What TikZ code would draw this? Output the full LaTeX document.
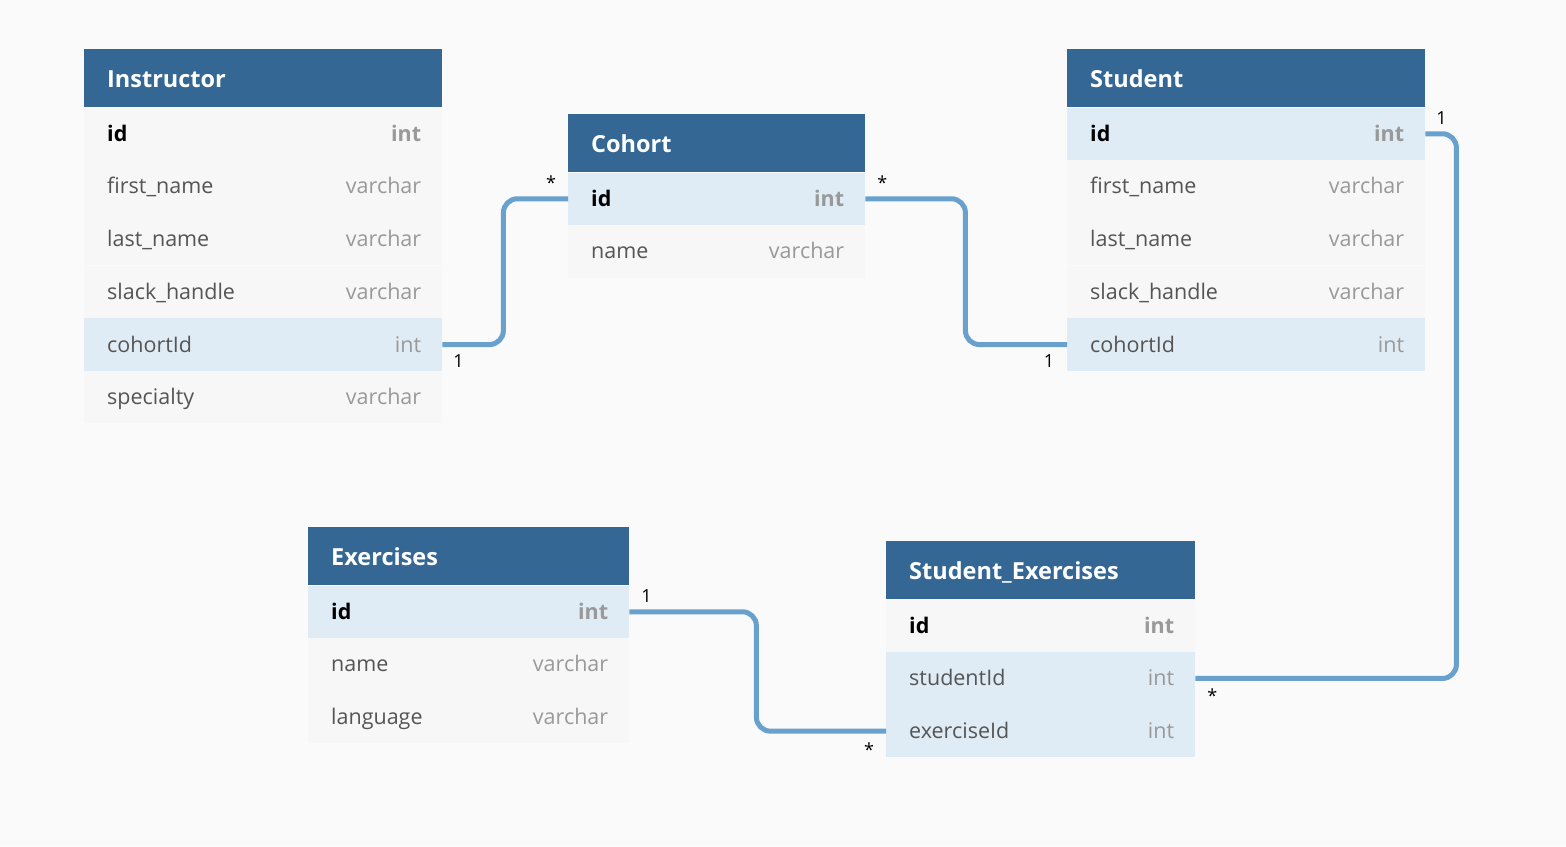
\documentclass[tikz,border=0pt]{standalone}
\usepackage{fontspec}
\setmainfont{Open Sans}
\usetikzlibrary{positioning}

\definecolor{headblue}{HTML}{346794}
\definecolor{rowgray}{HTML}{F7F7F7}
\definecolor{rowblue}{HTML}{E0ECF5}
\definecolor{linkblue}{HTML}{68A1CD}
\definecolor{pagebg}{HTML}{FAFAFA}
\definecolor{fieldgray}{HTML}{555555}
\definecolor{typegray}{HTML}{999999}

\tikzset{
  tablehead/.style={fill=headblue, anchor=north west, minimum height=58pt, inner sep=0pt},
  headtxt/.style={inner sep=0pt, text=white, text height=18pt, text depth=0pt,
    font=\fontsize{23.5}{23.5}\selectfont\bfseries},
  rowbox/.style={anchor=north west, minimum height=52.3pt, inner sep=0pt},
  normf/.style={inner sep=0pt, text=fieldgray, text height=15pt, text depth=0pt,
    font=\fontsize{21.5}{21.5}\selectfont},
  normt/.style={normf, text=typegray},
  keyf/.style={normf, text=black, font=\fontsize{21.5}{21.5}\selectfont\bfseries},
  keyt/.style={keyf, text=typegray},
  link/.style={draw=linkblue, line width=5pt, rounded corners=14pt},
  mult/.style={inner sep=0pt, anchor=base, font=\fontsize{18}{18}\selectfont}
}

% #1 name, #2 node above, #3 width, #4 field, #5 type, #6 fill, #7 norm/key
\newcommand\dbrow[7]{%
  \node[rowbox, fill=#6, minimum width=#3] (#1) at (#2.south west) {};
  \node[#7f, right=23pt of #1.west] (#1-f) {#4};
  \node[#7t, left=21pt of #1.east] (#1-t) {#5};
}

\begin{document}
\begin{tikzpicture}[x=1pt,y=-1pt]
\fill[pagebg] (0,0) rectangle (1566,846);
\useasboundingbox (0,0) rectangle (1566,846);

% Instructor
\node[tablehead, minimum width=358pt] (instr) at (84,49) {};
\node[headtxt, right=23pt of instr.west] (instr-title) {Instructor};
\dbrow{instr-id}{instr}{358pt}{id}{int}{rowgray}{key}
\dbrow{instr-first}{instr-id}{358pt}{first\_name}{varchar}{rowgray}{norm}
\dbrow{instr-last}{instr-first}{358pt}{last\_name}{varchar}{rowgray}{norm}
\dbrow{instr-slack}{instr-last}{358pt}{slack\_handle}{varchar}{rowgray}{norm}
\dbrow{instr-cohort}{instr-slack}{358pt}{cohortId}{int}{rowblue}{norm}
\dbrow{instr-spec}{instr-cohort}{358pt}{specialty}{varchar}{rowgray}{norm}

% Cohort
\node[tablehead, minimum width=297pt] (cohort) at (568,114) {};
\node[headtxt, right=23pt of cohort.west] (cohort-title) {Cohort};
\dbrow{cohort-id}{cohort}{297pt}{id}{int}{rowblue}{key}
\dbrow{cohort-name}{cohort-id}{297pt}{name}{varchar}{rowgray}{norm}

% Student
\node[tablehead, minimum width=358pt] (stud) at (1067,49) {};
\node[headtxt, right=23pt of stud.west] (stud-title) {Student};
\dbrow{stud-id}{stud}{358pt}{id}{int}{rowblue}{key}
\dbrow{stud-first}{stud-id}{358pt}{first\_name}{varchar}{rowgray}{norm}
\dbrow{stud-last}{stud-first}{358pt}{last\_name}{varchar}{rowgray}{norm}
\dbrow{stud-slack}{stud-last}{358pt}{slack\_handle}{varchar}{rowgray}{norm}
\dbrow{stud-cohort}{stud-slack}{358pt}{cohortId}{int}{rowblue}{norm}

% Exercises
\node[tablehead, minimum width=321pt] (ex) at (308,527) {};
\node[headtxt, right=23pt of ex.west] (ex-title) {Exercises};
\dbrow{ex-id}{ex}{321pt}{id}{int}{rowblue}{key}
\dbrow{ex-name}{ex-id}{321pt}{name}{varchar}{rowgray}{norm}
\dbrow{ex-lang}{ex-name}{321pt}{language}{varchar}{rowgray}{norm}

% Student_Exercises
\node[tablehead, minimum width=309pt] (se) at (886,541) {};
\node[headtxt, right=23pt of se.west] (se-title) {Student\_Exercises};
\dbrow{se-id}{se}{309pt}{id}{int}{rowgray}{key}
\dbrow{se-student}{se-id}{309pt}{studentId}{int}{rowblue}{norm}
\dbrow{se-exercise}{se-student}{309pt}{exerciseId}{int}{rowblue}{norm}

% relations
\draw[link] (instr-cohort.east) -- ++(61,0) |- (cohort-id.west);
\draw[link] (cohort-id.east) -- ++(100,0) |- (stud-cohort.west);
\draw[link] (stud-id.east) -- ++(31,0) |- (se-student.east);
\draw[link] (ex-id.east) -- ++(127,0) |- (se-exercise.west);

% cardinalities
\node[mult] (m-instr) at ([shift={(16,23)}]instr-cohort.east) {1};
\node[mult] (m-cohort-l) at ([shift={(-17,-9)}]cohort-id.west) {*};
\node[mult] (m-cohort-r) at ([shift={(17,-9)}]cohort-id.east) {*};
\node[mult] (m-stud-c) at ([shift={(-18,23)}]stud-cohort.west) {1};
\node[mult] (m-stud-id) at ([shift={(16,-9)}]stud-id.east) {1};
\node[mult] (m-se-s) at ([shift={(17,24)}]se-student.east) {*};
\node[mult] (m-ex) at ([shift={(17,-9)}]ex-id.east) {1};
\node[mult] (m-se-e) at ([shift={(-17,25)}]se-exercise.west) {*};
\end{tikzpicture}
\end{document}
